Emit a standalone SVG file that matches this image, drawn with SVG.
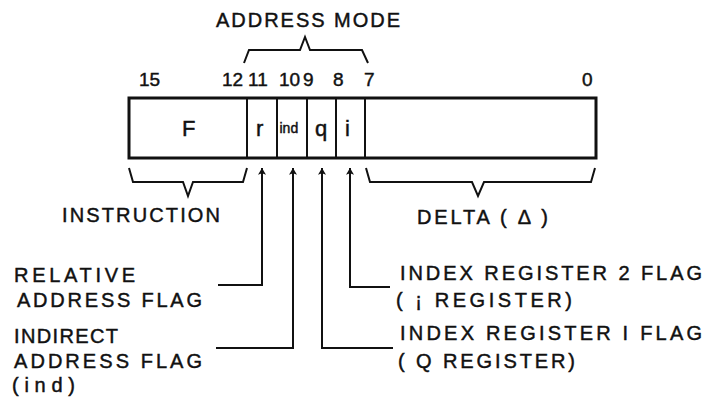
<svg xmlns="http://www.w3.org/2000/svg" width="709" height="400" viewBox="0 0 709 400">
<defs>
<style>
text{font-family:"Liberation Sans","DejaVu Sans",sans-serif;fill:#111;stroke:#111;stroke-width:0.45;}
.lbl{font-size:20px;}
.num{font-size:19px;}
.fld{font-size:22px;}
.ln{fill:none;stroke:#111;stroke-width:2;}
.br{fill:none;stroke:#111;stroke-width:2;stroke-linejoin:miter;}
</style>
<marker id="ah" viewBox="0 0 10 12" refX="10" refY="6" markerWidth="10" markerHeight="8" orient="auto" markerUnits="userSpaceOnUse">
<path d="M0,0 L10,6 L0,12 L2,6 z" fill="#111"/>
</marker>
</defs>
<rect width="709" height="400" fill="#fff"/>

<g id="title">
<text class="lbl" x="216" y="27" textLength="184" lengthAdjust="spacing">ADDRESS MODE</text>
<path class="br" d="M244,63 L249,50 L300,50 L305,37 L310,50 L362,50 L368,63"/>
</g>

<g id="bitnumbers">
<text class="num" x="139" y="86">15</text>
<text class="num" x="222" y="86">12</text>
<text class="num" x="248" y="86">11</text>
<text class="num" x="279" y="86">10</text>
<text class="num" x="303" y="86">9</text>
<text class="num" x="333" y="86">8</text>
<text class="num" x="364" y="86">7</text>
<text class="num" x="582" y="86">0</text>
</g>

<g id="register">
<rect x="129" y="98" width="467" height="60" fill="none" stroke="#111" stroke-width="3"/>
<line class="ln" x1="247" y1="98" x2="247" y2="158"/>
<line class="ln" x1="277" y1="98" x2="277" y2="158" stroke-width="1.5"/>
<line class="ln" x1="307" y1="98" x2="307" y2="158" stroke-width="1.5"/>
<line class="ln" x1="336" y1="98" x2="336" y2="158" stroke-width="1.5"/>
<line class="ln" x1="365" y1="98" x2="365" y2="158"/>
<text class="fld" x="182" y="136">F</text>
<text class="fld" x="256" y="136">r</text>
<text x="279.5" y="133" style="font-size:14px">ind</text>
<text class="fld" x="315" y="136">q</text>
<text class="fld" x="345" y="136">i</text>
</g>

<g id="instruction">
<path class="br" d="M129,168 L133,182 L183,182 L188,196 L193,182 L243,182 L247,168"/>
<text class="lbl" x="62" y="222" textLength="158" lengthAdjust="spacing">INSTRUCTION</text>
</g>

<g id="delta">
<path class="br" d="M366,168 L370,182 L472,182 L478,196 L484,182 L591,182 L595,168"/>
<text class="lbl" x="417" y="224" textLength="131" lengthAdjust="spacing">DELTA ( Δ )</text>
</g>

<g id="relative">
<text class="lbl" x="14" y="282" textLength="121" lengthAdjust="spacing">RELATIVE</text>
<text class="lbl" x="17" y="307" textLength="185" lengthAdjust="spacing">ADDRESS FLAG</text>
</g>

<g id="indirect">
<text class="lbl" x="14" y="343" textLength="104" lengthAdjust="spacing">INDIRECT</text>
<text class="lbl" x="14" y="368" textLength="188" lengthAdjust="spacing">ADDRESS FLAG</text>
<text x="12" y="392" style="font-size:20px" textLength="63" lengthAdjust="spacing">(ind)</text>
</g>

<g id="index2">
<text class="lbl" x="400" y="280" textLength="302" lengthAdjust="spacing">INDEX REGISTER 2 FLAG</text>
<text class="lbl" x="396" y="307" textLength="176" lengthAdjust="spacing">( ¡ REGISTER)</text>
</g>

<g id="index1">
<text class="lbl" x="400" y="340" textLength="302" lengthAdjust="spacing">INDEX REGISTER I FLAG</text>
<text class="lbl" x="398" y="368" textLength="177" lengthAdjust="spacing">( Q REGISTER)</text>
</g>

<g id="connectors">
<path class="ln" d="M218,285 L262,285 L262,168" marker-end="url(#ah)"/>
<path class="ln" d="M216,348 L293,348 L293,168" marker-end="url(#ah)"/>
<path class="ln" d="M393,348 L322,348 L322,168" marker-end="url(#ah)"/>
<path class="ln" d="M390,287 L350,287 L350,168" marker-end="url(#ah)"/>
</g>
</svg>
